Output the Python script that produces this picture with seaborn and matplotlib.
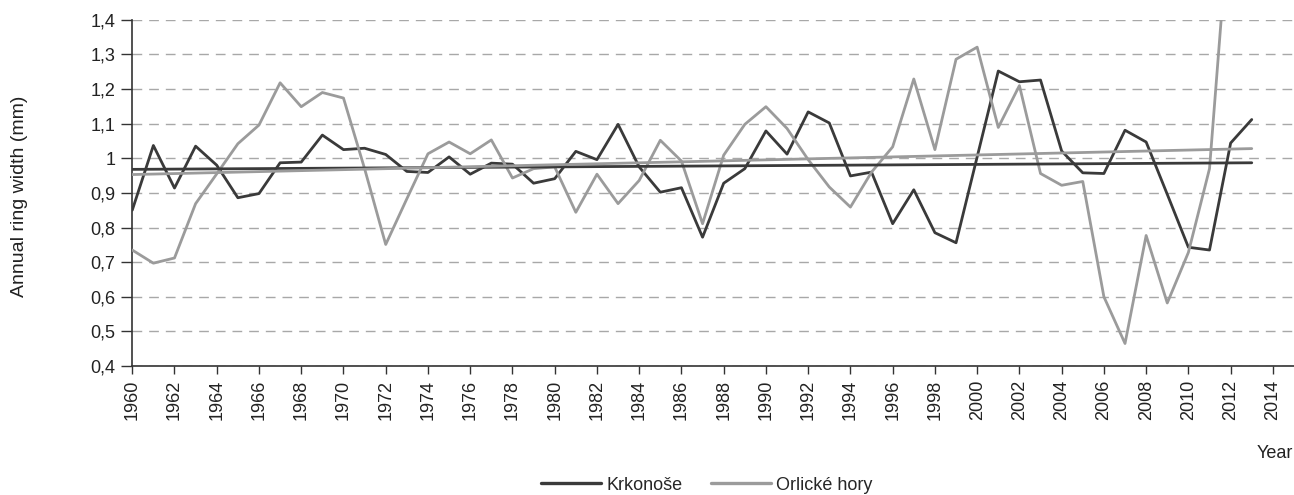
import numpy as np
import pandas as pd
import matplotlib
matplotlib.use("Agg")
import matplotlib.pyplot as plt
from matplotlib.ticker import FuncFormatter, MultipleLocator
import seaborn as sns

# data
years_krk = list(range(1960, 2014))
krkonose = [0.850, 1.037, 0.914, 1.035, 0.980, 0.886, 0.898, 0.987, 0.989, 1.067,
            1.025, 1.029, 1.011, 0.962, 0.959, 1.004, 0.954, 0.986, 0.983, 0.928,
            0.941, 1.020, 0.996, 1.098, 0.975, 0.902, 0.915, 0.772, 0.928, 0.970,
            1.079, 1.012, 1.134, 1.102, 0.949, 0.960, 0.811, 0.909, 0.785, 0.756,
            1.004, 1.252, 1.221, 1.226, 1.021, 0.958, 0.956, 1.081, 1.047, 0.896,
            0.743, 0.735, 1.044, 1.112]
years_orl = list(range(1960, 2013))
orlicke = [0.735, 0.697, 0.712, 0.869, 0.955, 1.042, 1.096, 1.218, 1.149, 1.190,
           1.174, 0.970, 0.751, 0.883, 1.013, 1.047, 1.013, 1.053, 0.943, 0.970,
           0.975, 0.844, 0.954, 0.869, 0.936, 1.052, 0.992, 0.811, 1.009, 1.098,
           1.149, 1.086, 0.996, 0.917, 0.859, 0.960, 1.033, 1.229, 1.025, 1.286,
           1.321, 1.089, 1.210, 0.956, 0.922, 0.933, 0.600, 0.465, 0.777, 0.582,
           0.728, 0.970, 1.750]
# linear trend lines (start, end)
trend_years = [1960, 2013]
krk_trend = [0.968, 0.987]
orl_trend = [0.953, 1.028]

names = ["Krkonoše", "Orlické hory"]
colors = {"Krkonoše": "#3a3a3a", "Orlické hory": "#9b9b9b"}

df = pd.concat([
    pd.DataFrame({"year": years_krk, "width": krkonose, "site": names[0]}),
    pd.DataFrame({"year": years_orl, "width": orlicke, "site": names[1]}),
])
trend = pd.concat([
    pd.DataFrame({"year": trend_years, "width": krk_trend, "site": names[0]}),
    pd.DataFrame({"year": trend_years, "width": orl_trend, "site": names[1]}),
])

sns.set_style("white")
plt.rcParams["font.family"] = ["Liberation Sans", "DejaVu Sans"]
plt.rcParams["font.size"] = 13

fig = plt.figure(figsize=(12.94, 4.95), dpi=100)
ax = fig.add_axes([0.1022, 0.2606, 0.8978, 0.6994])

ax.yaxis.grid(True, color="#a8a8a8", linestyle=(0, (7, 5)), linewidth=1.0)
ax.set_axisbelow(True)

sns.lineplot(data=df, x="year", y="width", hue="site", palette=colors,
             linewidth=2.0, ax=ax, legend=False, zorder=3)
sns.lineplot(data=trend, x="year", y="width", hue="site", palette=colors,
             linewidth=2.0, ax=ax, legend=False, zorder=4)

ax.set_xlim(1960, 2015)
ax.set_ylim(0.4, 1.4)
ax.yaxis.set_major_locator(MultipleLocator(0.1))


def fmt(v, pos):
    s = f"{v:.1f}".replace(".", ",")
    return s[:-2] if s.endswith(",0") else s


ax.yaxis.set_major_formatter(FuncFormatter(fmt))
ax.set_xticks(range(1960, 2015, 2))
ax.set_xticklabels([str(y) for y in range(1960, 2015, 2)], rotation=90)
ax.set_xlabel("")
ax.set_ylabel("")

for s in ["top", "right"]:
    ax.spines[s].set_visible(False)
for s in ["left", "bottom"]:
    ax.spines[s].set_color("#333333")
    ax.spines[s].set_linewidth(1.2)
ax.tick_params(axis="both", colors="#333333", labelcolor="#222222",
               direction="out", width=1.0, labelsize=13)
ax.tick_params(axis="x", length=6, pad=4)
ax.tick_params(axis="y", length=8, pad=4)
ax.tick_params(left=True, bottom=True)

fig.text(20 / 1294, 1 - 196 / 495, "Annual ring width (mm)", rotation=90,
         ha="center", va="center", fontsize=14, color="#222222")
fig.text(0.999, 1 - 454 / 495, "Year", ha="right", va="center",
         fontsize=13, color="#222222")

handles = [plt.Line2D([], [], color=colors[n], linewidth=2.4) for n in names]
fig.legend(handles, names, loc="center", bbox_to_anchor=(707 / 1294, 1 - 485 / 495),
           ncol=2, frameon=False, handlelength=3.3, handletextpad=0.3,
           columnspacing=1.6, fontsize=13, borderaxespad=0, borderpad=0)

fig.savefig("out.png", dpi=100)
